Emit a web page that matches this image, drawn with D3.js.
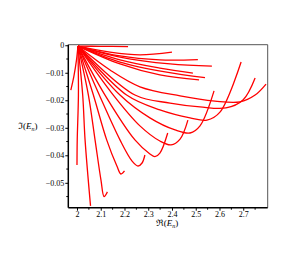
<!DOCTYPE html>
<html>
<head>
<meta charset="utf-8">
<script src="https://cdn.jsdelivr.net/npm/d3@7"></script>
<style>
  body { margin: 0; background: #fff; }
  .tick text { font-family: "Liberation Serif", serif; font-size: 8px; }
</style>
</head>
<body>
<div id="chart"></div>
<script>
// tick values
var xTicks = [2, 2.1, 2.2, 2.3, 2.4, 2.5, 2.6, 2.7];
var yTicks = [0, -0.01, -0.02, -0.03, -0.04, -0.05];

// traces [Re, Im]
var c1 = [[2.004,-0.0003],[1.998,-0.0053],[1.987,-0.0112],[1.974,-0.0163]];
var c2 = [[2.004,-0.0003],[2.006,-0.0181],[2.001,-0.0344],[2.0,-0.0435]];
var c3 = [[2.004,-0.0003],[2.024,-0.0181],[2.034,-0.0344],[2.057,-0.0584]];
var c4 = [[2.004,-0.0003],[2.048,-0.0181],[2.076,-0.0344],[2.101,-0.049],[2.114,-0.055],[2.128,-0.0533]];
var c5 = [[2.004,-0.0003],[2.069,-0.0181],[2.125,-0.0344],[2.168,-0.0439],[2.185,-0.0468],[2.2,-0.0457]];
var c6 = [[2.004,-0.0003],[2.094,-0.0181],[2.181,-0.0344],[2.232,-0.0421],[2.257,-0.0439],[2.274,-0.0428],[2.286,-0.0399]];
var c7 = [[2.004,-0.0003],[2.118,-0.0181],[2.244,-0.0344],[2.307,-0.0395],[2.328,-0.0405],[2.349,-0.0392],[2.382,-0.0319]];
var c8 = [[2.004,-0.0003],[2.153,-0.0181],[2.265,-0.0293],[2.349,-0.0348],[2.396,-0.0362],[2.434,-0.0341],[2.467,-0.0272]];
var c9 = [[2.004,-0.0003],[2.181,-0.0181],[2.307,-0.0264],[2.413,-0.0308],[2.476,-0.0319],[2.518,-0.0293],[2.577,-0.0166]];
var c10 = [[2.004,-0.0003],[2.209,-0.0181],[2.349,-0.0235],[2.476,-0.0264],[2.547,-0.0272],[2.602,-0.0243],[2.691,-0.0061]];
var c11 = [[2.004,-0.0003],[2.244,-0.0181],[2.392,-0.021],[2.518,-0.0224],[2.627,-0.0228],[2.699,-0.0199],[2.75,-0.0119]];
var c12 = [[2.004,-0.0003],[2.139,-0.009],[2.265,-0.0151],[2.434,-0.0184],[2.581,-0.0203],[2.686,-0.0206],[2.75,-0.0181],[2.796,-0.0141]];
var s1 = [[2.004,-0.0003],[2.097,-0.0004],[2.215,-0.0005]];
var s2 = [[2.004,-0.0003],[2.139,-0.0025],[2.265,-0.0035],[2.4,-0.0025]];
var s3 = [[2.004,-0.0003],[2.181,-0.0039],[2.349,-0.0053],[2.509,-0.0052]];
var s4 = [[2.004,-0.0003],[2.181,-0.0043],[2.392,-0.0068],[2.568,-0.0076]];
var s5 = [[2.004,-0.0003],[2.181,-0.0053],[2.349,-0.0083],[2.488,-0.0101]];
var s6 = [[2.004,-0.0003],[2.181,-0.0061],[2.371,-0.0097],[2.539,-0.0118]];
var s7 = [[2.004,-0.0003],[2.181,-0.0068],[2.349,-0.0108],[2.514,-0.0126]];

var curves = [c1, c2, c3, c4, c5, c6, c7, c8, c9, c10, c11, c12, s1, s2, s3, s4, s5, s6, s7];

var svgWidth = 289;
var svgHeight = 269;
var margin = { top: 44.7, right: 21.3, bottom: 61.3, left: 68.3 };
var chartWidth = svgWidth - margin.left - margin.right;
var chartHeight = svgHeight - margin.top - margin.bottom;

var svg = d3.select("#chart").append("svg")
  .attr("width", svgWidth)
  .attr("height", svgHeight);

var chartGroup = svg.append("g")
  .attr("transform", `translate(${margin.left}, ${margin.top})`);

var x = d3.scaleLinear().domain([1.9634, 2.803]).range([0, chartWidth]);
var y = d3.scaleLinear().domain([0.0002, -0.05905]).range([0, chartHeight]);

// frame on top and right
chartGroup.append("path")
  .attr("d", `M0,0H${chartWidth}V${chartHeight}`)
  .attr("fill", "none")
  .attr("stroke", "#555")
  .attr("stroke-width", 1);

var line = d3.line()
  .x(d => x(d[0]))
  .y(d => y(d[1]))
  .curve(d3.curveCatmullRom.alpha(0.5));

chartGroup.append("g").selectAll("path")
  .data(curves)
  .enter()
  .append("path")
  .attr("d", line)
  .attr("fill", "none")
  .attr("stroke", "#ff0000")
  .attr("stroke-width", 1.3);

// minor ticks
var xMinor = xTicks.map(d => d + 0.05);
var yMinor = yTicks.map(d => d - 0.005);

chartGroup.append("g").selectAll("line")
  .data(xMinor)
  .enter()
  .append("line")
  .attr("x1", d => x(d)).attr("x2", d => x(d))
  .attr("y1", chartHeight).attr("y2", chartHeight + 2)
  .attr("stroke", "#000");

chartGroup.append("g").selectAll("line")
  .data(yMinor)
  .enter()
  .append("line")
  .attr("x1", 0).attr("x2", -2)
  .attr("y1", d => y(d)).attr("y2", d => y(d))
  .attr("stroke", "#000");

var bottomAxis = d3.axisBottom(x).tickValues(xTicks).tickSize(3).tickPadding(1)
  .tickFormat(d3.format("~g"));
var leftAxis = d3.axisLeft(y).tickValues(yTicks).tickSize(3).tickPadding(1)
  .tickFormat(d => d === 0 ? "0" : "\u2212" + d3.format(".2f")(-d));

var gx = chartGroup.append("g")
  .attr("transform", `translate(0, ${chartHeight})`)
  .call(bottomAxis);
var gy = chartGroup.append("g")
  .call(leftAxis);

[gx, gy].forEach(function(g) {
  g.selectAll(".tick line").attr("stroke", "#000");
  g.select(".domain").attr("stroke-width", 1.5);
});
gx.select(".domain").attr("d", `M0,0H${chartWidth}`);
gy.select(".domain").attr("d", `M0,0V${chartHeight}`);

// axis titles
var yLabel = svg.append("text")
  .attr("x", 18)
  .attr("y", 129)
  .style("font-family", "Liberation Serif, serif")
  .style("font-size", "9px");
yLabel.append("tspan").text("\u2111(");
yLabel.append("tspan").style("font-style", "italic").text("E");
yLabel.append("tspan").attr("dy", 2).style("font-size", "6px").style("font-style", "italic").text("n");
yLabel.append("tspan").attr("dy", -2).text(")");

var xLabel = svg.append("text")
  .attr("x", 167)
  .attr("y", 226)
  .attr("text-anchor", "middle")
  .style("font-family", "Liberation Serif, serif")
  .style("font-size", "9px");
xLabel.append("tspan").text("\u211C(");
xLabel.append("tspan").style("font-style", "italic").text("E");
xLabel.append("tspan").attr("dy", 2).style("font-size", "6px").style("font-style", "italic").text("n");
xLabel.append("tspan").attr("dy", -2).text(")");
</script>
</body>
</html>
